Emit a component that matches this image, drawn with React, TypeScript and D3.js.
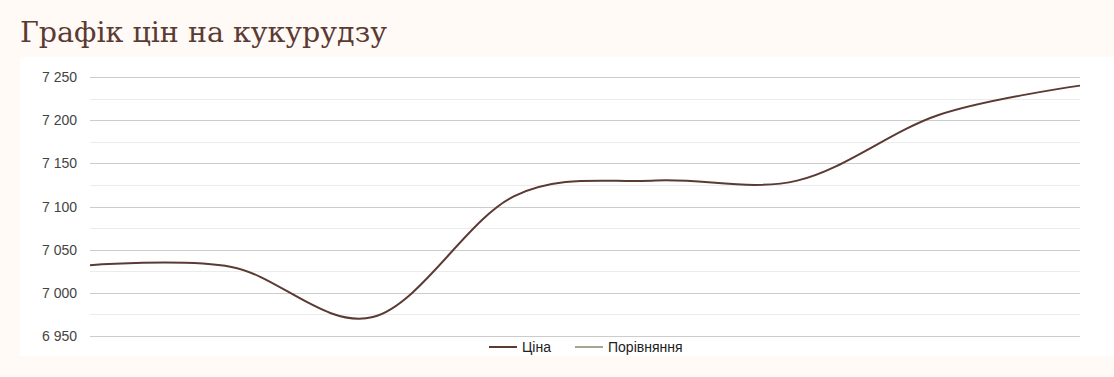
import React from "react";
import * as d3 from "d3";

const title = "Графік цін на кукурудзу";
const categories = [1, 2, 3, 4, 5, 6, 7, 8];
const prices = [7032, 7030, 6972, 7112, 7130, 7130, 7206, 7240];
const yTicks = [6950, 7000, 7050, 7100, 7150, 7200, 7250];
const yMinorTicks = [6975, 7025, 7075, 7125, 7175, 7225];
const legendItems = ["Ціна", "Порівняння"];
const legendColors = ["#5b3a33", "#a3a690"];

const W = 1114;
const H = 377;

export default function App() {
  const x = d3.scalePoint<number>().domain(categories).range([90, 1080]);
  const y = d3.scaleLinear().domain([6950, 7250]).range([336, 77]);
  const line = d3
    .line<number>()
    .x((_, i) => x(categories[i])!)
    .y((d) => y(d))
    .curve(d3.curveCardinal.tension(0));
  const fmt = (v: number) => d3.format(",")(v).replace(",", " ");
  return (
    <svg
      width={W}
      height={H}
      style={{ position: "absolute", left: 0, top: 0, display: "block" }}
    >
      <rect x={0} y={0} width={W} height={H} fill="#fffaf6" />
      <text
        x={20}
        y={42}
        fontFamily="'DejaVu Serif', serif"
        fontSize={28.5}
        fill="#5b3a33"
      >
        {title}
      </text>
      <rect x={20} y={57} width={W - 20} height={299} fill="#ffffff" />
      {yMinorTicks.map((t) => (
        <line
          key={"m" + t}
          x1={90}
          x2={1080}
          y1={Math.round(y(t)) + 0.5}
          y2={Math.round(y(t)) + 0.5}
          stroke="#ebebeb"
          strokeWidth={1}
        />
      ))}
      {yTicks.map((t) => (
        <g key={t}>
          <line
            x1={90}
            x2={1080}
            y1={Math.round(y(t)) + 0.5}
            y2={Math.round(y(t)) + 0.5}
            stroke="#cccccc"
            strokeWidth={1}
          />
          <text
            x={77}
            y={y(t) + 5}
            textAnchor="end"
            fontFamily="Arial, 'Liberation Sans', sans-serif"
            fontSize={14}
            fill="#444444"
          >
            {fmt(t)}
          </text>
        </g>
      ))}
      <path
        d={line(prices) || ""}
        fill="none"
        stroke="#5b3a33"
        strokeWidth={2}
      />
      {legendItems.map((name, i) => {
        const lx = i === 0 ? 489 : 575;
        return (
          <g key={name}>
            <line
              x1={lx}
              x2={lx + 28}
              y1={347}
              y2={347}
              stroke={legendColors[i]}
              strokeWidth={2}
            />
            <text
              x={lx + 33}
              y={352}
              fontFamily="Arial, 'Liberation Sans', sans-serif"
              fontSize={14}
              fill="#222222"
            >
              {name}
            </text>
          </g>
        );
      })}
    </svg>
  );
}
